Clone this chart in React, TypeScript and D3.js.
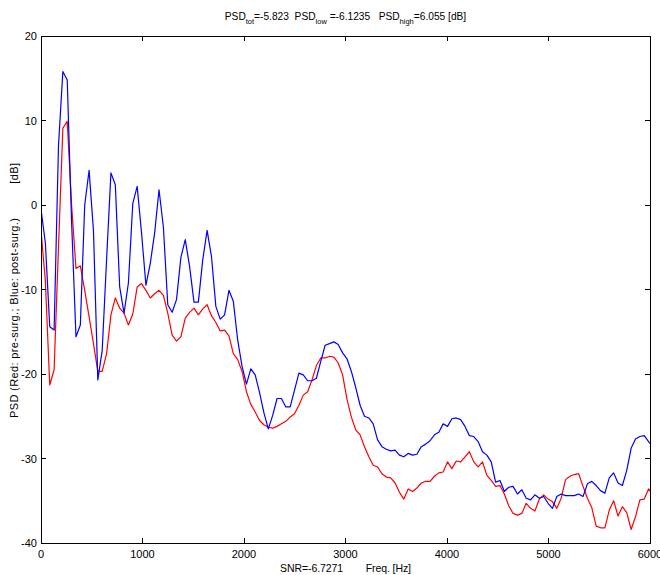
import React from "react";
import * as d3 from "d3";

const FREQ_STEP = 11025 / 256;

const blueDb: number[] = [
  -0.5, -4.5, -14.4, -14.8, 7, 15.8, 14.8, -2, -15.6, -14.2,
  0.0, 4.1, -3.0, -20.7, -17.2, -6.5, 3.8, 2.4, -9.7, -12.8,
  -9.2, 0.2, 2.2, -3.3, -9.5, -6.9, -3.3, 1.8, -2.6, -11.8,
  -12.7, -11.2, -6.2, -4.1, -7.3, -11.5, -11.5, -6.5, -3.0, -6.1,
  -12.0, -13.5, -13.0, -10.1, -11.4, -16.0, -19.1, -21.2, -19.4, -20.1,
  -22.2, -24.6, -26.5, -24.9, -22.9, -22.9, -23.9, -23.9, -21.9, -19.9,
  -20.1, -20.8, -20.8, -20.5, -18.5, -16.6, -16.4, -16.2, -16.5, -17.5,
  -18.2, -19.7, -21.6, -23.7, -25.0, -25.2, -25.9, -27.8, -28.6, -28.9,
  -29.1, -29.0, -29.6, -29.8, -29.4, -29.6, -29.5, -28.6, -28.3, -27.9,
  -27.2, -26.9, -25.9, -26.2, -25.3, -25.2, -25.4, -26.2, -27.3, -27.4,
  -28.0, -29.2, -29.6, -30.4, -32.8, -32.6, -33.9, -33.4, -33.3, -34.2,
  -33.7, -34.7, -34.9, -34.3, -34.7, -34.5, -35.3, -35.9, -34.5, -34.2,
  -34.4, -34.4, -34.4, -34.2, -34.5, -33.0, -32.7, -33.2, -33.8, -34.1,
  -32.3, -31.7, -32.9, -33.2, -31.4, -28.8, -27.7, -27.4, -27.3, -28.0,
  -28.6,
];

const redDb: number[] = [
  -3, -9, -21.3, -19.5, -5, 9.1, 9.9, 0, -7.5, -7.2,
  -10.1, -13.2, -16.4, -19.7, -19.7, -17.6, -13.0, -11.0, -12.2, -12.8,
  -14.2, -12.9, -9.7, -9.3, -10.1, -11.0, -10.5, -10.1, -10.7, -12.8,
  -15.4, -16.1, -15.6, -13.4, -12.7, -12.2, -13.0, -12.3, -11.8, -13.1,
  -13.9, -14.9, -14.8, -15.5, -17.6, -18.3, -19.7, -22.1, -23.6, -24.5,
  -25.5, -26.0, -26.3, -26.4, -26.2, -25.9, -25.6, -25.1, -24.7, -23.7,
  -22.5, -22.1, -20.7, -19.0, -18.1, -18.1, -17.9, -18.0, -18.7, -20.1,
  -23.0, -25.1, -26.6, -27.2, -28.6, -29.8, -30.8, -31.0, -31.8, -32.2,
  -32.3, -32.9, -34.0, -34.8, -33.6, -33.9, -33.5, -32.9, -32.7, -32.7,
  -32.1, -31.7, -31.6, -30.4, -31.2, -30.3, -30.4, -29.8, -29.2, -30.4,
  -31.0, -30.4, -32.0, -32.6, -33.3, -33.2, -34.2, -35.6, -36.5, -36.7,
  -36.5, -35.3, -35.9, -36.2, -34.8, -34.3, -34.8, -35.1, -35.9, -34.7,
  -32.5, -32.1, -31.9, -31.8, -33.3, -34.7, -35.8, -38.0, -38.2, -38.2,
  -36.1, -35.0, -36.8, -35.7, -36.4, -38.4, -36.9, -34.9, -34.8, -33.6,
  -34.3,
];

const xTicks: number[] = [0, 1000, 2000, 3000, 4000, 5000, 6000];
const yTicks: number[] = [20, 10, 0, -10, -20, -30, -40];

const W = 660;
const H = 575;
const LEFT = 41;
const RIGHT = 650;
const TOP = 36;
const BOTTOM = 543;
const FONT = "'Liberation Sans', Arial, Helvetica, sans-serif";

export default function App() {
  const x = d3.scaleLinear().domain([0, 6000]).range([LEFT, RIGHT]);
  const y = d3.scaleLinear().domain([-40, 20]).range([BOTTOM, TOP]);
  const line = d3
    .line<number>()
    .x((_, i) => x(i * FREQ_STEP))
    .y((d) => y(d));

  const tickLen = 5;
  const pre = { whiteSpace: "pre" as const };

  return (
    <svg
      width={W}
      height={H}
      style={{ position: "absolute", left: 0, top: 0, background: "#fff" }}
      fontFamily={FONT}
    >
      <defs>
        <clipPath id="plotClip">
          <rect x={LEFT} y={TOP} width={RIGHT - LEFT} height={BOTTOM - TOP} />
        </clipPath>
      </defs>
      <rect x={0} y={0} width={W} height={H} fill="#fff" />

      <g clipPath="url(#plotClip)">
        <path d={line(redDb) || ""} fill="none" stroke="#ff0000" strokeWidth={1.2} strokeLinejoin="round" />
        <path d={line(blueDb) || ""} fill="none" stroke="#0000ff" strokeWidth={1.2} strokeLinejoin="round" />
      </g>

      <rect
        x={LEFT}
        y={TOP}
        width={RIGHT - LEFT}
        height={BOTTOM - TOP}
        fill="none"
        stroke="#000"
        strokeWidth={1}
        shapeRendering="crispEdges"
      />

      {xTicks.map((t) => (
        <g key={"x" + t}>
          <line x1={x(t)} x2={x(t)} y1={BOTTOM} y2={BOTTOM - tickLen} stroke="#000" shapeRendering="crispEdges" />
          <line x1={x(t)} x2={x(t)} y1={TOP} y2={TOP + tickLen} stroke="#000" shapeRendering="crispEdges" />
          <text x={x(t)} y={BOTTOM + 15} textAnchor="middle" fontSize={11} fill="#000">
            {t}
          </text>
        </g>
      ))}

      {yTicks.map((t) => (
        <g key={"y" + t}>
          <line x1={LEFT} x2={LEFT + tickLen} y1={y(t)} y2={y(t)} stroke="#000" shapeRendering="crispEdges" />
          <line x1={RIGHT} x2={RIGHT - tickLen} y1={y(t)} y2={y(t)} stroke="#000" shapeRendering="crispEdges" />
          <text x={LEFT - 4} y={y(t) + 4} textAnchor="end" fontSize={11} fill="#000">
            {t}
          </text>
        </g>
      ))}

      <text
        x={(LEFT + RIGHT) / 2}
        y={20}
        textAnchor="middle"
        fontSize={10.2}
        fill="#000"
        xmlSpace="preserve"
        style={pre}
      >
        <tspan>PSD</tspan>
        <tspan fontSize={7.5} dy={4}>tot</tspan>
        <tspan dy={-4}>{"=-5.823  PSD"}</tspan>
        <tspan fontSize={7.5} dy={4}>low</tspan>
        <tspan dy={-4}>{" =-6.1235   PSD"}</tspan>
        <tspan fontSize={7.5} dy={4}>high</tspan>
        <tspan dy={-4}>{"=6.055 [dB]"}</tspan>
      </text>

      <text
        x={280}
        y={572}
        fontSize={10.5}
        fill="#000"
        xmlSpace="preserve"
        textLength={131}
        lengthAdjust="spacing"
        style={pre}
      >
        {"SNR=-6.7271        Freq. [Hz]"}
      </text>

      <text
        transform={`translate(18, 418) rotate(-90)`}
        fontSize={11}
        fill="#000"
        xmlSpace="preserve"
        textLength={255}
        lengthAdjust="spacing"
        style={pre}
      >
        {"PSD (Red: pre-surg.; Blue: post-surg.)          [dB]"}
      </text>
    </svg>
  );
}
